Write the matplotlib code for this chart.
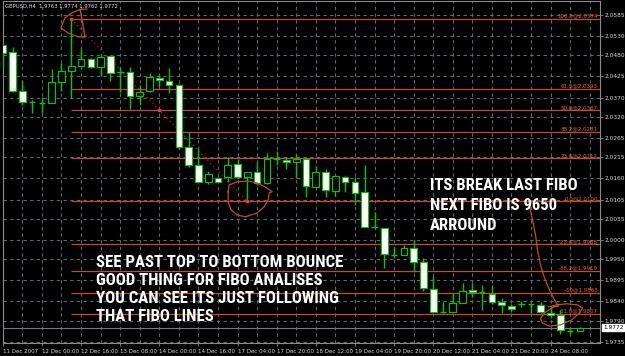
import matplotlib
matplotlib.use("Agg")
import matplotlib.pyplot as plt
from matplotlib import font_manager
import numpy as np

# GBPUSD H4 bars, 11 Dec 2007 08:00 .. 24 Dec 2007 20:00
opens = [2.0507, 2.0489, 2.0387, 2.0359, 2.0356, 2.0356, 2.0411, 2.0439, 2.0452, 2.0471,
         2.0450, 2.0478, 2.0437, 2.0437, 2.0374, 2.0387, 2.0421, 2.0413, 2.0403, 2.0242,
         2.0195, 2.0151, 2.0161, 2.0164, 2.0198, 2.0164, 2.0177, 2.0148, 2.0211, 2.0208,
         2.0203, 2.0211, 2.0138, 2.0177, 2.0127, 2.0164, 2.0151, 2.0125, 2.0034, 2.0031,
         1.9961, 1.9961, 1.9979, 1.9943, 1.9873, 1.9813, 1.9813, 1.9836, 1.9870, 1.9865,
         1.9860, 1.9839, 1.9828, 1.9834, 1.9834, 1.9831, 1.9810, 1.9805, 1.9763, 1.9763]
highs = [2.0512, 2.0502, 2.0413, 2.0364, 2.0372, 2.0445, 2.0460, 2.0574, 2.0499, 2.0473,
         2.0481, 2.0478, 2.0450, 2.0450, 2.0403, 2.0434, 2.0432, 2.0447, 2.0406, 2.0281,
         2.0242, 2.0179, 2.0164, 2.0216, 2.0211, 2.0177, 2.0203, 2.0226, 2.0231, 2.0216,
         2.0224, 2.0213, 2.0192, 2.0185, 2.0169, 2.0166, 2.0164, 2.0195, 2.0073, 2.0031,
         1.9982, 1.9987, 2.0000, 1.9953, 1.9906, 1.9839, 1.9862, 1.9888, 1.9888, 1.9883,
         1.9883, 1.9849, 1.9834, 1.9841, 1.9836, 1.9839, 1.9826, 1.9818, 1.9771, 1.9774]
lows = [2.0447, 2.0385, 2.0351, 2.0330, 2.0330, 2.0356, 2.0387, 2.0369, 2.0452, 2.0447,
        2.0426, 2.0413, 2.0385, 2.0341, 2.0351, 2.0385, 2.0398, 2.0382, 2.0237, 2.0190,
        2.0151, 2.0146, 2.0151, 2.0151, 2.0164, 2.0100, 2.0143, 2.0146, 2.0195, 2.0185,
        2.0161, 2.0112, 2.0138, 2.0112, 2.0114, 2.0125, 2.0091, 2.0034, 2.0031, 1.9927,
        1.9953, 1.9961, 1.9917, 1.9867, 1.9813, 1.9810, 1.9813, 1.9836, 1.9852, 1.9818,
        1.9834, 1.9810, 1.9813, 1.9826, 1.9810, 1.9810, 1.9797, 1.9756, 1.9756, 1.9762]
closes = [2.0486, 2.0387, 2.0359, 2.0359, 2.0356, 2.0411, 2.0439, 2.0452, 2.0471, 2.0450,
          2.0476, 2.0434, 2.0437, 2.0374, 2.0385, 2.0424, 2.0416, 2.0403, 2.0242, 2.0195,
          2.0151, 2.0172, 2.0151, 2.0195, 2.0164, 2.0177, 2.0148, 2.0211, 2.0211, 2.0203,
          2.0211, 2.0140, 2.0177, 2.0130, 2.0166, 2.0151, 2.0122, 2.0034, 2.0034, 1.9964,
          1.9961, 1.9979, 1.9943, 1.9875, 1.9813, 1.9813, 1.9836, 1.9867, 1.9865, 1.9865,
          1.9839, 1.9831, 1.9821, 1.9834, 1.9834, 1.9813, 1.9805, 1.9766, 1.9763, 1.9772]

date_labels = ["11 Dec 2007", "12 Dec 00:00", "12 Dec 16:00", "13 Dec 08:00", "14 Dec 00:00",
               "14 Dec 16:00", "17 Dec 04:00", "17 Dec 20:00", "18 Dec 12:00", "19 Dec 04:00",
               "19 Dec 20:00", "20 Dec 12:00", "21 Dec 04:00", "21 Dec 20:00", "24 Dec 08:00"]
price_ticks = [2.0585, 2.0530, 2.0480, 2.0425, 2.0370, 2.0320, 2.0265, 2.0215, 2.0160,
               2.0105, 2.0055, 2.0000, 1.9950, 1.9895, 1.9840, 1.9790, 1.9735]

# fibonacci retracement drawn from the 12 Dec high to the 17 Dec low
fib_high, fib_low = 2.0574, 2.0100
fib_bar_high, fib_bar_low = 7, 25
fib_levels = [100.0, 61.8, 50.0, 38.2, 23.6, 0.0, -23.6, -38.2, -50.0, -61.8]
fib_names = ["100.0", "61.8", "50.0", "38.2", "23.6", "0.0", "-23.6", "-38.2", "-50", "-61.8"]

last_price = 1.9772
title = "GBPUSD,H4  1.9763 1.9774 1.9762 1.9772"

# hand drawn marks (bar index, price)
top_loop_x = [8.6, 7.9, 7.07, 6.35, 5.94, 6.66, 7.68, 8.4, 8.2, 7.9]
top_loop_y = [2.0600, 2.0599, 2.0590, 2.0577, 2.0551, 2.0538, 2.0528, 2.0527, 2.0559, 2.0598]
mid_loop_x = [23.04, 23.14, 23.96, 25.08, 26.0, 26.82, 27.54, 27.23, 27.13, 26.72, 26.0,
              24.78, 23.96, 23.34, 23.04, 23.04]
mid_loop_y = [2.0125, 2.0143, 2.0151, 2.0153, 2.0148, 2.0138, 2.0125, 2.0122, 2.0104, 2.0086,
              2.0070, 2.0060, 2.0065, 2.0078, 2.0099, 2.0125]
end_curve_x = [53.85, 54.15, 54.46, 54.66, 54.97, 55.38, 55.89, 56.4, 56.81, 56.3, 55.38,
               54.97, 55.17, 55.89, 57.0, 58.15, 58.96, 59.27, 58.76, 57.63, 56.61, 55.79]
end_curve_y = [2.0086, 2.0052, 2.0013, 1.9974, 1.9935, 1.9901, 1.9870, 1.9844, 1.9828, 1.9826,
               1.9810, 1.9795, 1.9784, 1.9776, 1.9779, 1.9792, 1.9810, 1.9823, 1.9831, 1.9834,
               1.9831, 1.9826]

note_right = ["ITS BREAK LAST FIBO", "NEXT FIBO IS 9650", "ARROUND"]
note_left = ["SEE PAST TOP TO BOTTOM BOUNCE", "GOOD THING FOR FIBO ANALISES",
             "YOU CAN SEE ITS JUST FOLLOWING", "THAT FIBO LINES"]

GREEN = '#00c800'
FIB = '#c8482b'
GRID = '#5c6874'
FRAME = '#8a8a8a'
PEN = '#b8521f'

# narrowest bold face that is installed
installed = {f.name for f in font_manager.fontManager.ttflist}
note_font = 'DejaVu Sans'
for name in ['Roboto Condensed', 'Liberation Sans Narrow', 'Open Sans Condensed', 'Liberation Sans']:
    if name in installed:
        note_font = name
        break

fig = plt.figure(figsize=(6.25, 3.56), dpi=100, facecolor='black')
ax = fig.add_axes([0.004, 0.0365, 0.9552, 0.9607], facecolor='black')

o, h, l, c = (np.array(v) for v in (opens, highs, lows, closes))
x = np.arange(len(o))
ax.set_xlim(-0.03, 61.0)
ax.set_ylim(1.9732, 2.0621)

# grid
ax.set_yticks(price_ticks)
ax.set_yticklabels(["%.4f" % p for p in price_ticks])
ax.set_xticks(np.arange(0, 57, 4))
ax.set_xticklabels(date_labels, ha='left')
ax.set_xticks(np.arange(0, 61, 2), minor=True)
ax.grid(True, which='both', color=GRID, linestyle=(0, (3, 3)), lw=0.8, zorder=0)
ax.set_axisbelow(True)
ax.yaxis.tick_right()
ax.tick_params(axis='y', colors=FRAME, labelcolor='#d8d8d8', labelsize=4.2, length=2, pad=1.5, width=0.6)
ax.tick_params(axis='x', which='major', colors=FRAME, labelcolor='#d8d8d8', labelsize=4.0,
               length=2, pad=2.5, width=0.6)
ax.tick_params(axis='x', which='minor', length=0)
for s in ax.spines.values():
    s.set_color(FRAME)
    s.set_linewidth(0.8)

# fibo lines
for lvl, name in zip(fib_levels, fib_names):
    p = fib_low + (fib_high - fib_low) * lvl / 100.0
    ax.hlines(p, fib_bar_high, 61.0, color=FIB, lw=0.9, zorder=2)
    ax.text(60.85, p + 0.0001, "%s@%.4f" % (name, p), color='#e8643c', fontsize=4.0,
            ha='right', va='bottom', zorder=2)

ax.axhline(last_price, color='#6f7d8a', lw=0.8, zorder=2)

# trend line of the fibo tool
ax.plot([fib_bar_high, fib_bar_low], [fib_high, fib_low], color='#a81010', lw=1,
        linestyle=(0, (1, 2)), zorder=3)
ax.plot([fib_bar_high, (fib_bar_high + fib_bar_low) / 2, fib_bar_low],
        [fib_high, (fib_high + fib_low) / 2, fib_low], 's', color='#ff3030', ms=2, zorder=6)

# candles
ax.vlines(x, l, h, color=GREEN, lw=1, zorder=4)
bear = c < o
bull = c > o
doji = c == o
ax.bar(x[bear], o[bear] - c[bear], bottom=c[bear], width=0.68, color='white',
       edgecolor=GREEN, lw=0.8, zorder=5)
ax.bar(x[bull], c[bull] - o[bull], bottom=o[bull], width=0.68, color='black',
       edgecolor=GREEN, lw=0.8, zorder=5)
ax.hlines(o[doji], x[doji] - 0.34, x[doji] + 0.34, color=GREEN, lw=1, zorder=5)

# hand drawn circles
ax.plot(top_loop_x, top_loop_y, color=PEN, lw=0.9, zorder=7)
ax.plot(mid_loop_x, mid_loop_y, color=PEN, lw=0.9, zorder=7)
ax.plot(end_curve_x, end_curve_y, color=PEN, lw=0.9, zorder=7)

# notes
right_texts = [ax.text(43.7, 2.0130 - k * 0.0052, line, color='white', fontsize=11,
                       fontweight='bold', family=note_font, ha='left', va='baseline', zorder=8)
               for k, line in enumerate(note_right)]
left_texts = [ax.text(9.5, 1.9930 - k * 0.0047, line, color='white', fontsize=12,
                      fontweight='bold', family=note_font, ha='left', va='baseline', zorder=8)
              for k, line in enumerate(note_left)]

ax.text(0.004, 0.992, title, transform=ax.transAxes, color='#e0e0e0', fontsize=3.8,
        ha='left', va='top', zorder=9)
ax.text(1.006, last_price, "%.4f" % last_price, transform=ax.get_yaxis_transform(),
        color='black', fontsize=4.2, ha='left', va='center', clip_on=False,
        bbox=dict(boxstyle='square,pad=0.15', fc='white', ec='white'))

# fit the note widths to the screenshot (first line 147 px and 248 px wide)
fig.canvas.draw()
renderer = fig.canvas.get_renderer()
for group, target in ((right_texts, 147.0), (left_texts, 248.0)):
    w = group[0].get_window_extent(renderer).width
    size = group[0].get_fontsize() * target / w
    for t in group:
        t.set_fontsize(size)

fig.savefig('out.png', dpi=100, facecolor='black')
